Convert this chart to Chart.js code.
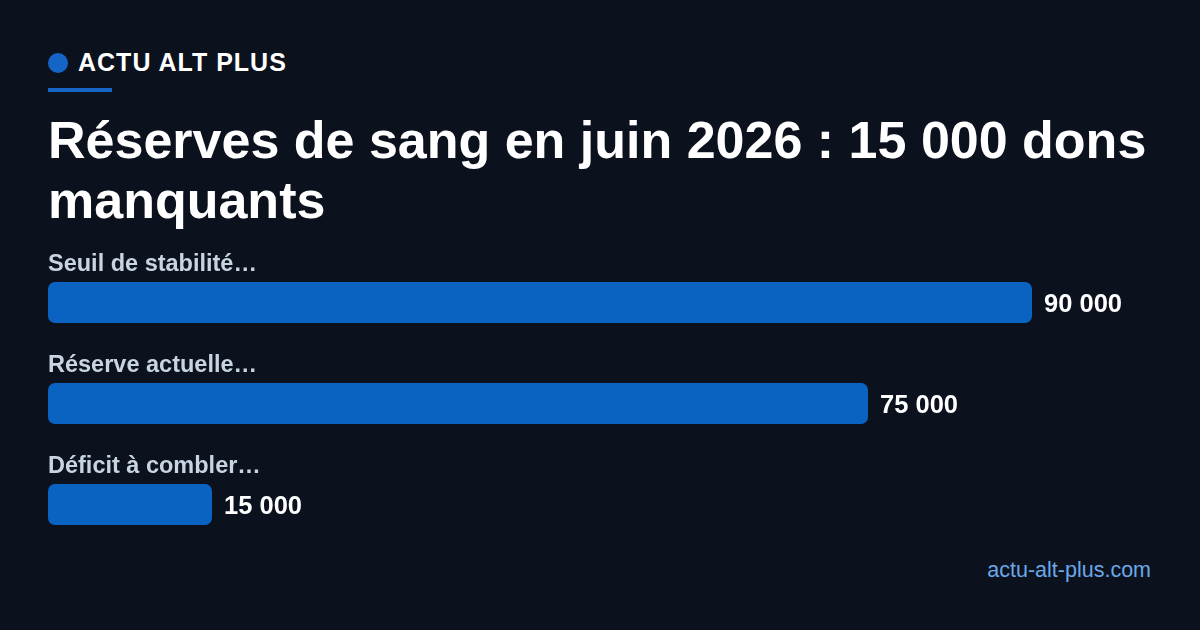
<!DOCTYPE html>
<html>
<head>
<meta charset="utf-8">
<script src="https://cdn.jsdelivr.net/npm/chart.js@4"></script>
<style>
  body { margin: 0; width: 1200px; height: 630px; background: #0b121e; font-family: "Liberation Sans", Arial, sans-serif; position: relative; overflow: hidden; }
  .brand { position: absolute; left: 48px; top: 48px; color: #fff; font-weight: bold; font-size: 25px; letter-spacing: 1px; display: flex; align-items: center; }
  .dot { width: 20px; height: 20px; border-radius: 50%; background: #1565c8; margin-right: 10px; }
  .rule { position: absolute; left: 48px; top: 88px; width: 64px; height: 4px; background: #1565c8; }
  h1 { position: absolute; left: 48px; top: 110px; margin: 0; color: #fff; font-size: 52px; line-height: 60px; font-weight: bold; width: 1120px; }
  #wrap { position: absolute; left: 48px; top: 252px; width: 1104px; height: 303px; }
  .foot { position: absolute; right: 49px; top: 558px; color: #6aa8e8; font-size: 21.5px; }
</style>
</head>
<body>
<div class="brand"><span class="dot"></span>ACTU ALT PLUS</div>
<div class="rule"></div>
<h1>Réserves de sang en juin 2026 : 15 000 dons manquants</h1>
<div id="wrap"><canvas id="chart"></canvas></div>
<div class="foot">actu-alt-plus.com</div>
<script>
const categories = ['Seuil de stabilité…', 'Réserve actuelle…', 'Déficit à combler…'];
const values = [90000, 75000, 15000];
const valueLabels = ['90 000', '75 000', '15 000'];

const labelPlugin = {
    id: 'labels',
    afterDatasetsDraw(chart) {
        const ctx = chart.ctx;
        const meta = chart.getDatasetMeta(0);
        ctx.save();
        meta.data.forEach((bar, i) => {
            const top = bar.y - bar.height / 2;
            ctx.font = 'bold 23.5px "Liberation Sans", Arial, sans-serif';
            ctx.fillStyle = '#c9d4e2';
            ctx.textBaseline = 'alphabetic';
            ctx.textAlign = 'left';
            ctx.fillText(categories[i], 0, top - 11);
            ctx.font = 'bold 25.5px "Liberation Sans", Arial, sans-serif';
            ctx.fillStyle = '#ffffff';
            ctx.textBaseline = 'middle';
            ctx.fillText(valueLabels[i], bar.x + 12, bar.y + 2);
        });
        ctx.restore();
    }
};

new Chart(document.getElementById('chart'), {
    type: 'bar',
    data: {
        labels: categories,
        datasets: [{
            data: values,
            backgroundColor: '#0b63c1',
            borderRadius: 7,
            borderSkipped: false,
            barPercentage: 1,
            categoryPercentage: 0.406
        }]
    },
    options: {
        indexAxis: 'y',
        responsive: true,
        maintainAspectRatio: false,
        animation: false,
        layout: { padding: 0 },
        plugins: { legend: { display: false }, tooltip: { enabled: false } },
        scales: {
            x: { display: false, min: 0, max: 90000 * 1104 / 984 },
            y: { display: false }
        }
    },
    plugins: [labelPlugin]
});
</script>
</body>
</html>
